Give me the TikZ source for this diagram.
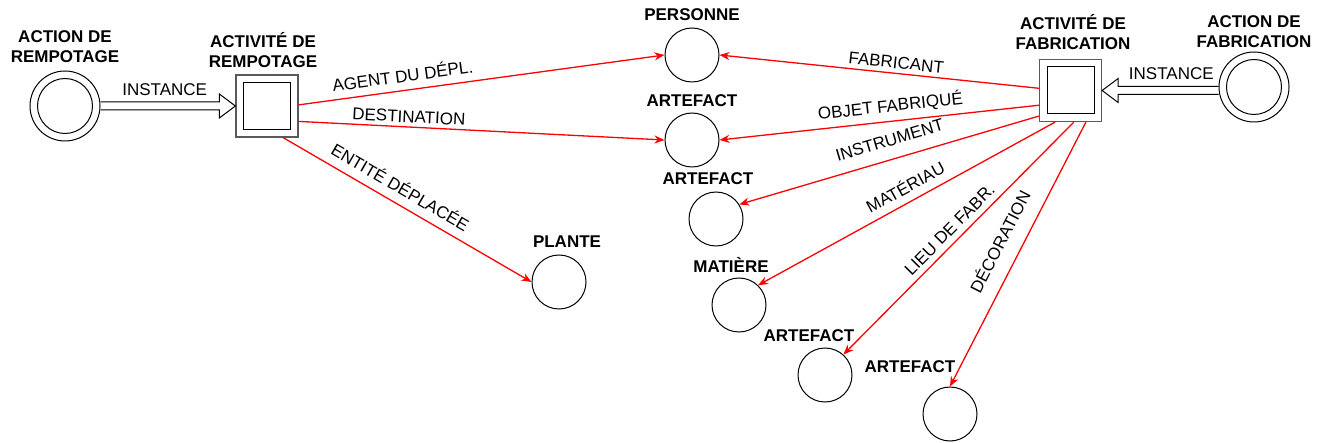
\documentclass[tikz,border=0pt]{standalone}
\usepackage{fontspec}
\setmainfont{Liberation Sans}
\usetikzlibrary{calc,arrows.meta}

\tikzset{
	heading/.style={font=\bfseries\fontsize{17}{20}\selectfont,align=center,inner sep=0pt},
	rel/.style={red,line width=1.3pt,->},
	rlabel/.style={font=\fontsize{17}{20}\selectfont,text=black,sloped,inner sep=1pt},
	role/.style={circle,draw,line width=1pt,minimum size=54pt,inner sep=0pt},
	action/.style={circle,draw,line width=1pt,minimum size=70pt,inner sep=0pt},
	activity/.style={draw=black!65,line width=1.2pt,minimum size=62pt,inner sep=0pt},
	inst/.style={line width=1pt},
}

\begin{document}
\begin{tikzpicture}[>={Stealth[length=10pt,width=8pt]},x=1pt,y=-1pt]
	\useasboundingbox (0,0) rectangle (1322,443);
	\node[action] (arp) at (65,106) {};
	\node[activity] (asq) at (267,106) {};
	\node[action] (afb) at (1254,87) {};
	\node[activity] (fsq) at (1070.5,90.5) {};
	\node[role] (pers) at (692,55) {};
	\node[role] (art1) at (692,140) {};
	\node[role] (art2) at (716,219) {};
	\node[role] (mat) at (739,305) {};
	\node[role] (art3) at (825,375) {};
	\node[role] (art4) at (950,414) {};
	\node[role] (pla) at (559,282) {};
	\foreach \i in {arp,afb} \draw[line width=1pt] (\i) circle (27.5pt);
	\foreach \i in {asq,fsq} \node[draw,line width=1pt,minimum size=47pt,inner sep=0pt] (\i-in) at (\i) {};
	\node[heading] (t-arp) at (65,47) {ACTION DE\\REMPOTAGE};
	\node[heading] (t-asq) at (263,50.5) {ACTIVITÉ DE\\REMPOTAGE};
	\node[heading] (t-fsq) at (1073,32) {ACTIVITÉ DE\\FABRICATION};
	\node[heading] (t-afb) at (1254,32) {ACTION DE\\FABRICATION};
	\node[heading] (t-pers) at (692,15) {PERSONNE};
	\node[heading] (t-art1) at (692,101) {ARTEFACT};
	\node[heading] (t-art2) at (708,179) {ARTEFACT};
	\node[heading] (t-mat) at (731,265) {MATIÈRE};
	\node[heading] (t-art3) at (809,336) {ARTEFACT};
	\node[heading] (t-art4) at (910,367) {ARTEFACT};
	\node[heading] (t-pla) at (567,242) {PLANTE};
	\coordinate (fin) at (afb.west |- fsq.east);
	\draw[inst] ($(arp.east)+(0,-4)$) -- ($(asq.west)+(-16,-4)$) node[pos=.54,above=5pt,font=\fontsize{17}{20}\selectfont,inner sep=1pt] (l-inst1) {INSTANCE}
		-- ($(asq.west)+(-16,-12)$) -- (asq.west) -- ($(asq.west)+(-16,12)$) -- ($(asq.west)+(-16,4)$) -- ($(arp.east)+(0,4)$);
	\draw[inst] ($(fin)+(0,-4)$) -- ($(fsq.east)+(16,-4)$) node[pos=.47,above=5pt,font=\fontsize{17}{20}\selectfont,inner sep=1pt] (l-inst2) {INSTANCE}
		-- ($(fsq.east)+(16,-12)$) -- (fsq.east) -- ($(fsq.east)+(16,12)$) -- ($(fsq.east)+(16,4)$) -- ($(fin)+(0,4)$);
	\draw[rel] (asq.2) -- (pers.west) node[rlabel,pos=.29,above=6.6pt] (l-agent) {AGENT DU DÉPL.};
	\draw[rel] (asq.-26) -- (art1.west) node[rlabel,pos=.3,above=2.6pt] (l-dest) {DESTINATION};
	\draw[rel] (asq.-63) -- (pla.west) node[rlabel,pos=.44,above=7.6pt] (l-ent) {ENTITÉ DÉPLACÉE};
	\draw[rel] (fsq.176) -- (pers.east) node[rlabel,pos=.45,above=3pt] (l-fab) {FABRICANT};
	\draw[rel] (fsq.205) -- (art1.east) node[rlabel,pos=.46,above=4.6pt] (l-obj) {OBJET FABRIQUÉ};
	\draw[rel] (fsq.219) -- (art2.32) node[rlabel,pos=.48,above=11.4pt] (l-instr) {INSTRUMENT};
	\draw[rel] (fsq.244) -- (mat.46) node[rlabel,pos=.48,above=6.8pt] (l-mat) {MATÉRIAU};
	\draw[rel] (fsq.276) -- (art3.48) node[rlabel,pos=.5,above=5pt] (l-lieu) {LIEU DE FABR.};
	\draw[rel] (fsq.296) -- (art4.north) node[rlabel,pos=.49,above=13.5pt] (l-deco) {DÉCORATION};
\end{tikzpicture}
\end{document}
